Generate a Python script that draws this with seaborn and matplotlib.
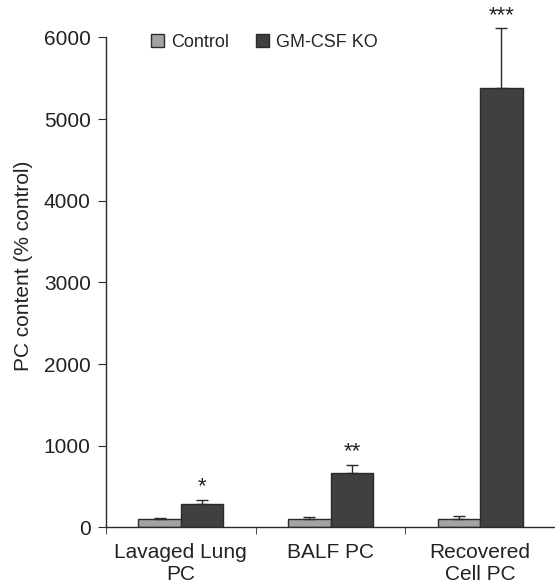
import numpy as np
import pandas as pd
import matplotlib
matplotlib.use('Agg')
import matplotlib.pyplot as plt
import seaborn as sns
from matplotlib.patches import Patch

categories = ['Lavaged Lung\nPC', 'BALF PC', 'Recovered\nCell PC']
groups = ['Control', 'GM-CSF KO']
control_vals = [100, 100, 100]
control_err = [15, 25, 45]
ko_vals = [285, 670, 5380]
ko_err = [55, 95, 730]
stars = ['*', '**', '***']

sns.set_style('ticks')
plt.rcParams['font.family'] = ['Liberation Sans', 'DejaVu Sans']

df = pd.DataFrame({
    'category': categories * 2,
    'group': [groups[0]] * 3 + [groups[1]] * 3,
    'value': control_vals + ko_vals,
})

fig = plt.figure(figsize=(5.55, 5.87), dpi=100)
ax = fig.add_axes([0.191, 0.1015, 0.809, 0.8905])

palette = {'Control': '#a3a3a3', 'GM-CSF KO': '#404040'}
line_col = '#2a2a2a'
txt_col = '#222222'
sns.barplot(data=df, x='category', y='value', hue='group', palette=palette,
            width=0.57, gap=0, errorbar=None, edgecolor=line_col, linewidth=1,
            saturation=1, ax=ax, legend=False)

# upper error bars + stars, positioned from the drawn bars
errs = control_err + ko_err
vals = control_vals + ko_vals
bars = sorted([p for p in ax.patches if p.get_height() > 0], key=lambda p: p.get_x())
order = [0, 3, 1, 4, 2, 5]
for p, i in zip(bars, order):
    xc = p.get_x() + p.get_width() / 2
    ax.errorbar(xc, vals[i], yerr=[[0], [errs[i]]], fmt='none', ecolor=line_col,
                elinewidth=1, capsize=4, capthick=1)
    if i >= 3:
        ax.text(xc, vals[i] + errs[i] + 90, stars[i - 3], ha='center', va='baseline',
                fontsize=16, color=txt_col)

ax.set_xlim(-0.5, 2.5)
ax.set_ylim(0, 6400)
ax.set_yticks([0, 1000, 2000, 3000, 4000, 5000, 6000])
ax.spines['left'].set_bounds(0, 6000)
ax.spines['top'].set_visible(False)
ax.spines['right'].set_visible(False)
for s in ['left', 'bottom']:
    ax.spines[s].set_color(line_col)
    ax.spines[s].set_linewidth(1)

ax.set_xticks([0, 1, 2])
ax.set_xticklabels(categories, fontsize=15, color=txt_col, linespacing=1.22)
ax.tick_params(axis='x', which='major', length=0, pad=11)
ax.set_xticks([-0.5, 0.5, 1.5], minor=True)
ax.tick_params(axis='x', which='minor', length=5, direction='out', color=line_col)
ax.tick_params(axis='y', length=6, direction='out', color=line_col,
               labelsize=15, labelcolor=txt_col, pad=5)

ax.set_xlabel('')
ax.set_ylabel('PC content (% control)', fontsize=15, color=txt_col, labelpad=8)

handles = [Patch(facecolor=palette[g], edgecolor=line_col, linewidth=1) for g in groups]
ax.legend(handles, groups, loc='upper left', bbox_to_anchor=(0.065, 0.975), ncol=2,
          frameon=False, fontsize=13, handlelength=0.7, handleheight=0.7,
          handletextpad=0.4, columnspacing=1.5)

fig.savefig('out.png', dpi=100)
